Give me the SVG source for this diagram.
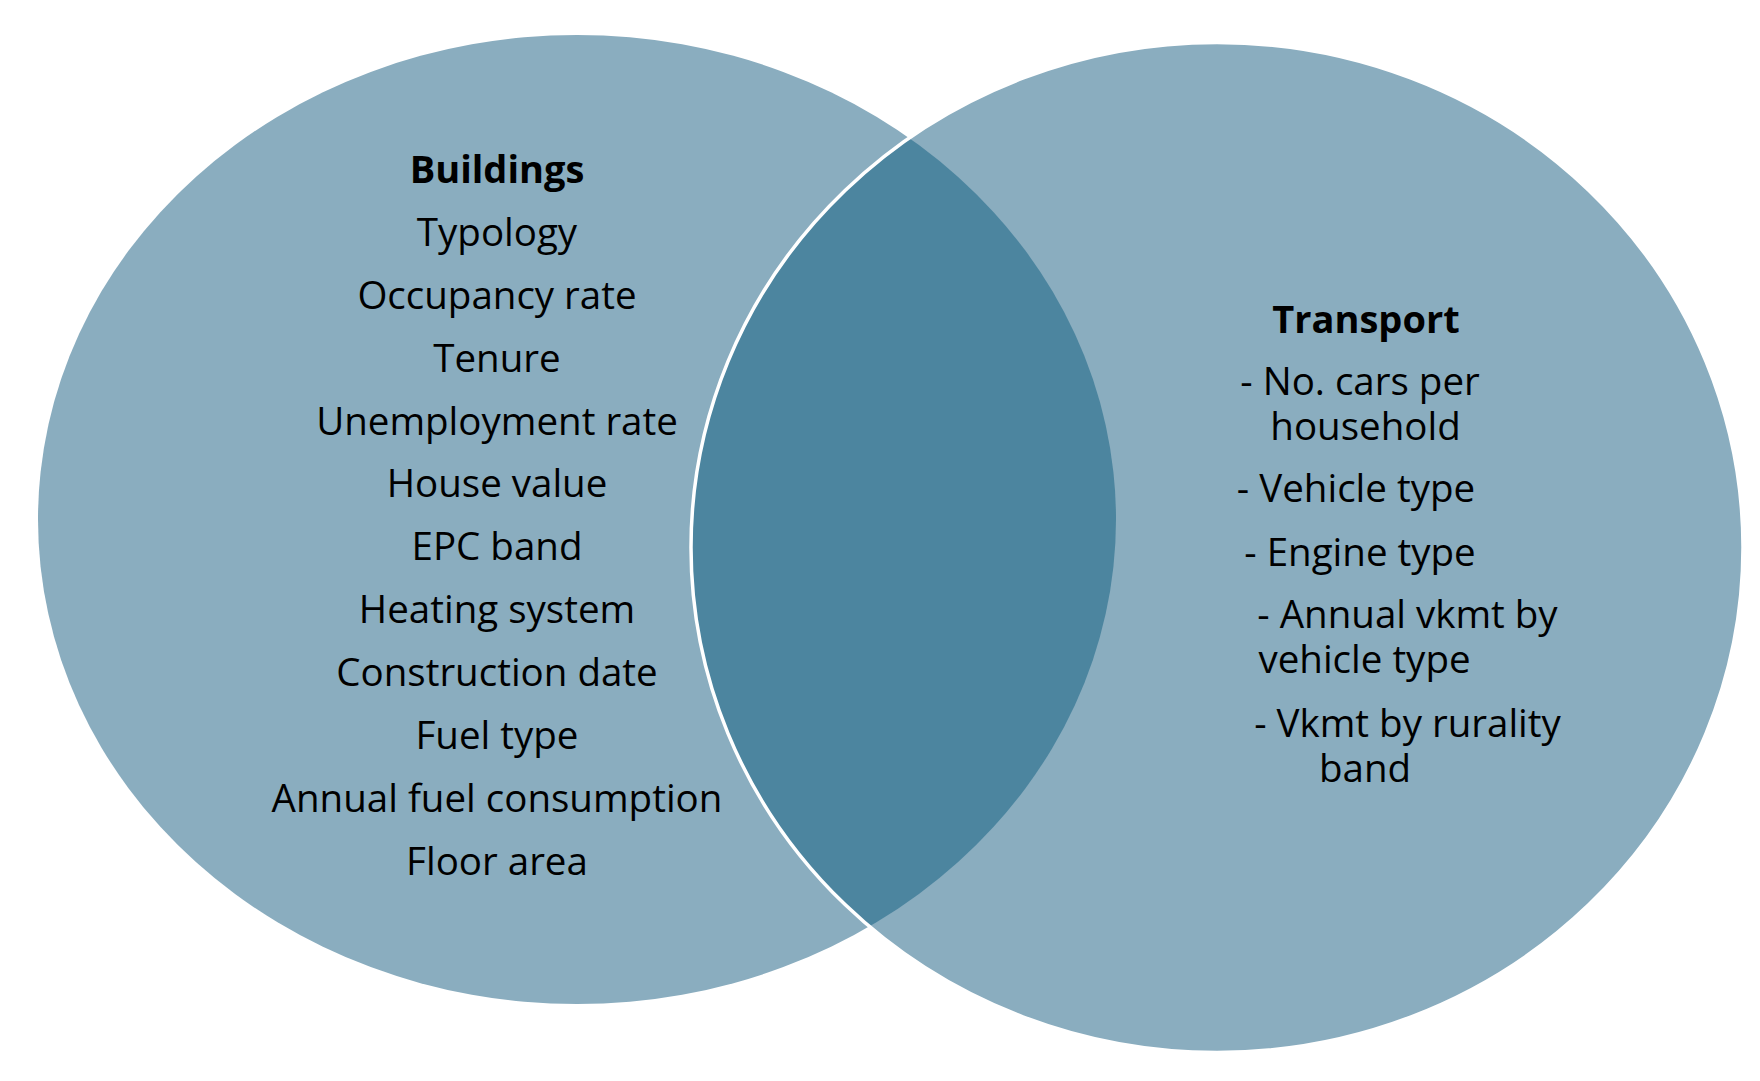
<svg xmlns="http://www.w3.org/2000/svg" width="1760" height="1081" viewBox="0 0 1760 1081">
  <style>
    .lt { fill: #8AADBF; }
    .dk { fill: #4C859F; }
    .t { font-family: "Open Sans", "Liberation Sans", sans-serif; font-size: 38.5px; fill: #000; text-anchor: middle; }
    .b { font-weight: bold; font-size: 38px; }
  </style>
  <defs>
    <clipPath id="clipR">
      <ellipse cx="1217" cy="547.5" rx="526" ry="505"/>
    </clipPath>
  </defs>
  <g id="buildings-circle">
    <ellipse class="lt" cx="577" cy="519.5" rx="539" ry="484.5"/>
  </g>
  <g id="transport-circle">
    <ellipse class="lt" cx="1217" cy="547.5" rx="526" ry="505"/>
  </g>
  <g id="overlap">
    <ellipse class="dk" cx="577" cy="519.5" rx="539" ry="484.5" clip-path="url(#clipR)"/>
    <ellipse cx="1217" cy="547.5" rx="526" ry="505" fill="none" stroke="#FFFFFF" stroke-width="3.5"/>
  </g>
  <g id="buildings-text">
    <text class="t b" x="497" y="183">Buildings</text>
    <text class="t" x="497" y="246">Typology</text>
    <text class="t" x="497" y="309">Occupancy rate</text>
    <text class="t" x="497" y="372">Tenure</text>
    <text class="t" x="497" y="435">Unemployment rate</text>
    <text class="t" x="497" y="497">House value</text>
    <text class="t" x="497" y="560">EPC band</text>
    <text class="t" x="497" y="623">Heating system</text>
    <text class="t" x="497" y="686">Construction date</text>
    <text class="t" x="497" y="749">Fuel type</text>
    <text class="t" x="497" y="812">Annual fuel consumption</text>
    <text class="t" x="497" y="875">Floor area</text>
  </g>
  <g id="transport-text">
    <text class="t b" x="1366" y="333">Transport</text>
    <text class="t" x="1360" y="395">- No. cars per</text>
    <text class="t" x="1365.5" y="440">household</text>
    <text class="t" x="1356" y="502">- Vehicle type</text>
    <text class="t" x="1360" y="566">- Engine type</text>
    <text class="t" x="1407.5" y="628">- Annual vkmt by</text>
    <text class="t" x="1364.5" y="673">vehicle type</text>
    <text class="t" x="1407.5" y="737">- Vkmt by rurality</text>
    <text class="t" x="1365" y="782">band</text>
  </g>
</svg>
